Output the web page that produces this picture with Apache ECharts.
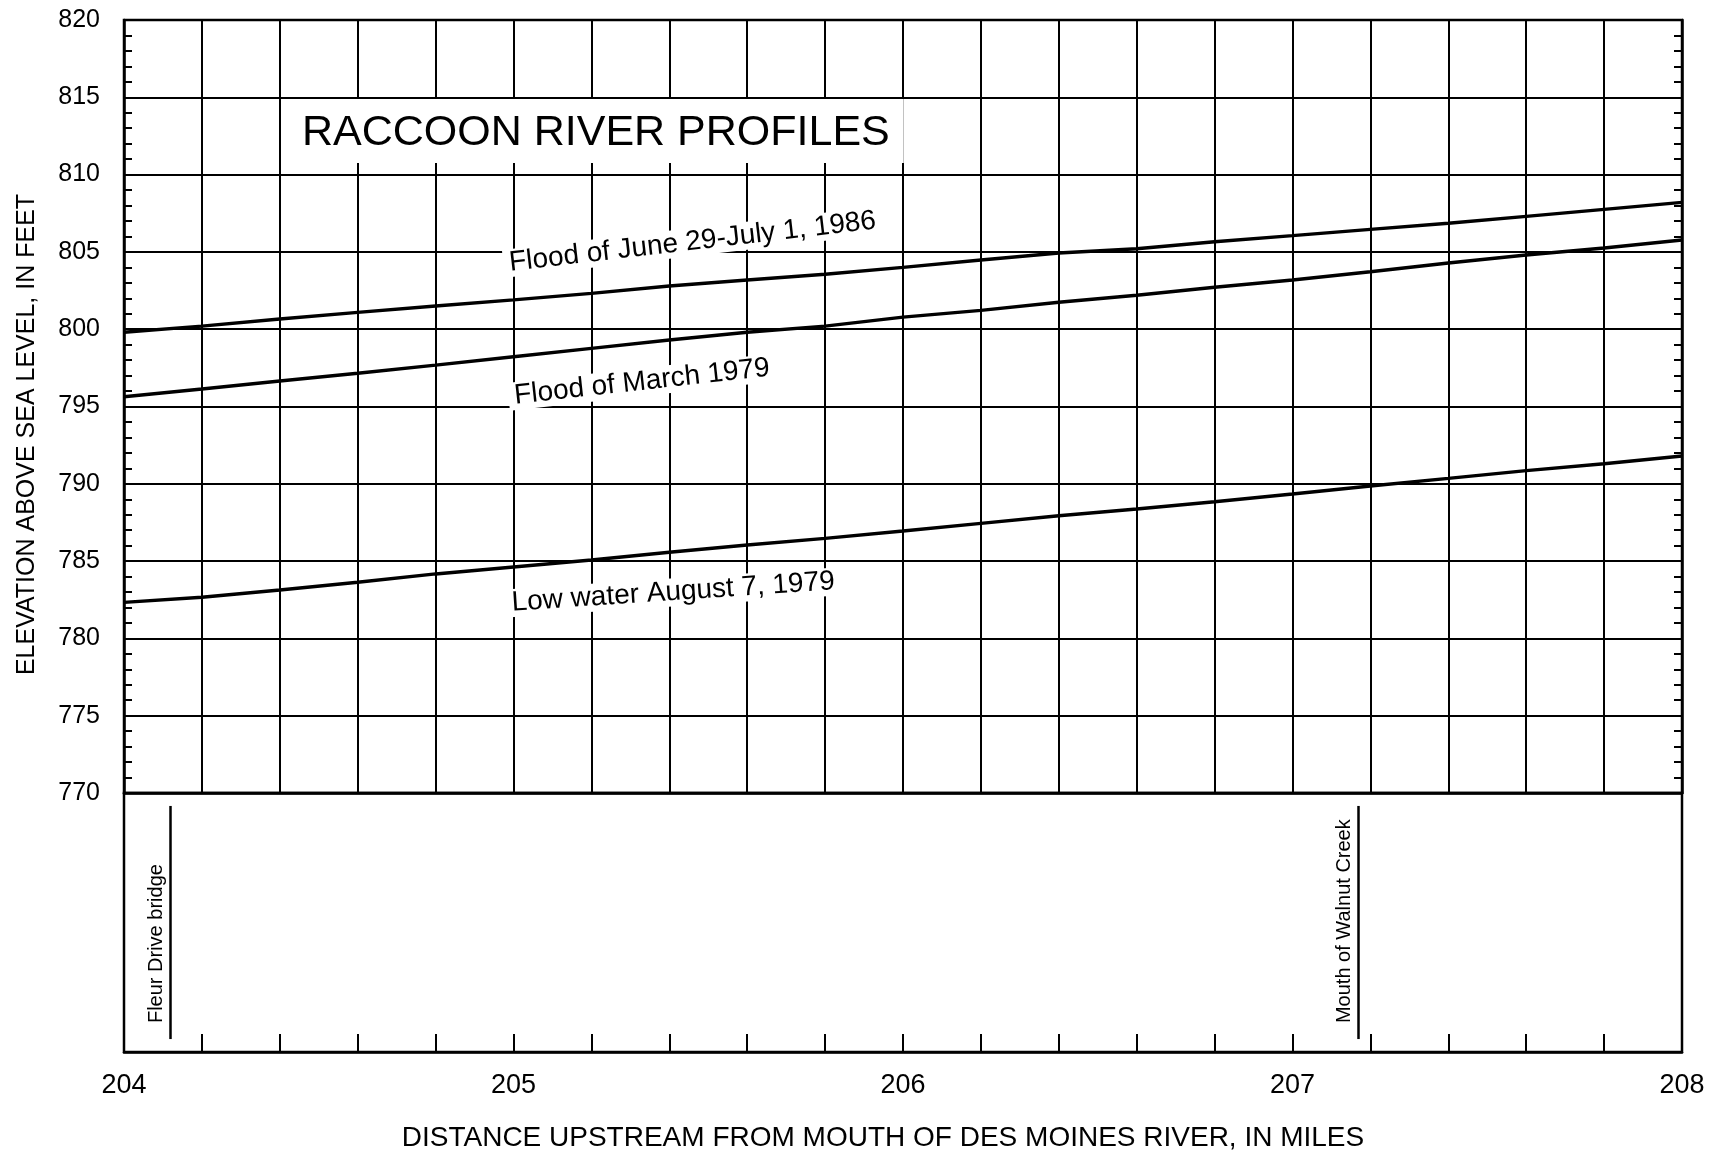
<!DOCTYPE html>
<html>
<head>
<meta charset="utf-8">
<title>Raccoon River Profiles</title>
<script src="https://cdn.jsdelivr.net/npm/echarts@6/dist/echarts.min.js"></script>
<style>
    html, body { margin: 0; padding: 0; background: #fff; }
    #chart { width: 1725px; height: 1156px; }
</style>
</head>
<body>
<div id="chart"></div>
<script>
// distance upstream (miles) at which each profile was read
const miles = [204.0, 204.2, 204.4, 204.6, 204.8, 205.0, 205.2, 205.4, 205.6, 205.8,
               206.0, 206.2, 206.4, 206.6, 206.8, 207.0, 207.2, 207.4, 207.6, 207.8, 208.0];

// water surface elevations, feet above sea level
const flood1986 = [799.8, 800.2, 800.66, 801.09, 801.5, 801.9, 802.32, 802.79, 803.18, 803.55,
                   804.0, 804.48, 804.93, 805.2, 805.66, 806.05, 806.46, 806.85, 807.3, 807.75, 808.2];
const flood1979 = [795.63, 796.13, 796.65, 797.15, 797.68, 798.22, 798.76, 799.3, 799.8, 800.2,
                   800.78, 801.22, 801.74, 802.2, 802.71, 803.18, 803.72, 804.28, 804.8, 805.25, 805.77];
const lowWater1979 = [782.33, 782.66, 783.13, 783.63, 784.17, 784.62, 785.07, 785.57, 786.04, 786.47,
                      786.95, 787.44, 787.93, 788.37, 788.84, 789.34, 789.86, 790.35, 790.85, 791.3, 791.8];

const profileNames = ['Flood of June 29-July 1, 1986', 'Flood of March 1979', 'Low water August 7, 1979'];

// landmarks along the river
const landmarkNames = ['Fleur Drive bridge', 'Mouth of Walnut Creek'];
const landmarkMiles = [204.12, 207.17];

// axis ticks
const yTicks = { min: 770, max: 820, step: 5 };
const xTicks = { min: 204, max: 208, step: 0.2 };

const FONT = 'Liberation Sans, Arial, Helvetica, sans-serif';
const INK = '#000';

// where the rotated profile labels sit (data coords) and their tilt
const profileLabels = [
    { coord: [205.46, 805.64], rotate: 6.6 },
    { coord: [205.33, 796.58], rotate: 6.3 },
    { coord: [205.41, 782.98], rotate: 3.8 }
];

function pairs(xs, ys) {
    return xs.map((x, i) => [x, ys[i]]);
}

function profileSeries(idx, values) {
    const lab = profileLabels[idx];
    return {
        name: profileNames[idx],
        type: 'line',
        xAxisIndex: 0,
        yAxisIndex: 0,
        data: pairs(miles, values),
        showSymbol: false,
        smooth: false,
        silent: true,
        lineStyle: { color: INK, width: 3.4 },
        z: 3,
        markPoint: {
            symbol: 'circle',
            symbolSize: 1,
            itemStyle: { color: 'rgba(0,0,0,0)' },
            silent: true,
            data: [{
                coord: lab.coord,
                label: {
                    show: true,
                    position: 'inside',
                    formatter: profileNames[idx],
                    rotate: lab.rotate,
                    color: INK,
                    fontFamily: FONT,
                    fontSize: 28,
                    backgroundColor: '#fff',
                    padding: [0, 6, 0, 6]
                }
            }]
        }
    };
}

function landmarkSeries(idx) {
    const mile = landmarkMiles[idx];
    return {
        name: landmarkNames[idx],
        type: 'line',
        xAxisIndex: 1,
        yAxisIndex: 2,
        data: [],
        silent: true,
        markLine: {
            silent: true,
            symbol: ['none', 'none'],
            lineStyle: { color: INK, width: 2.5, type: 'solid' },
            label: {
                show: true,
                position: 'insideStartTop',
                formatter: landmarkNames[idx],
                color: INK,
                fontFamily: FONT,
                fontSize: 20,
                distance: 4,
                padding: [0, 0, 0, 12]
            },
            data: [[{ coord: [mile, 0.05] }, { coord: [mile, 0.95] }]]
        }
    };
}

const isWhole = v => Math.abs(v - Math.round(v)) < 1e-6;

const option = {
    backgroundColor: '#fff',
    animation: false,
    textStyle: { fontFamily: FONT, color: INK },
    title: {
        text: 'RACCOON RIVER PROFILES',
        left: 290,
        top: 99,
        backgroundColor: '#fff',
        padding: [13, 14, 8, 12],
        textStyle: { fontFamily: FONT, fontSize: 43, fontWeight: 'normal', color: INK }
    },
    grid: [
        { left: 124, right: 43, top: 20, height: 773, show: true, borderColor: INK, borderWidth: 2.5 },
        { left: 124, right: 43, top: 793, height: 259, show: true, borderColor: INK, borderWidth: 2.5 }
    ],
    xAxis: [
        {
            gridIndex: 0,
            type: 'value',
            min: xTicks.min,
            max: xTicks.max,
            interval: xTicks.step,
            axisLine: { show: true, lineStyle: { color: INK, width: 2.5 } },
            axisTick: { show: false },
            axisLabel: { show: false },
            splitLine: { show: true, lineStyle: { color: INK, width: 2 } }
        },
        {
            gridIndex: 1,
            type: 'value',
            min: xTicks.min,
            max: xTicks.max,
            interval: xTicks.step,
            axisLine: { show: true, lineStyle: { color: INK, width: 2.5 } },
            axisTick: { show: true, inside: true, length: 18, lineStyle: { color: INK, width: 2 } },
            axisLabel: {
                show: true,
                margin: 20,
                fontFamily: FONT,
                fontSize: 27,
                color: INK,
                formatter: v => (isWhole(v) ? String(Math.round(v)) : '')
            },
            splitLine: { show: false },
            name: 'DISTANCE UPSTREAM FROM MOUTH OF DES MOINES RIVER, IN MILES',
            nameLocation: 'middle',
            nameGap: 72,
            nameTextStyle: { fontFamily: FONT, fontSize: 28, color: INK, padding: [0, 40, 0, 0] }
        }
    ],
    yAxis: [
        {
            gridIndex: 0,
            type: 'value',
            min: yTicks.min,
            max: yTicks.max,
            interval: yTicks.step,
            axisLine: { show: true, lineStyle: { color: INK, width: 2.5 } },
            axisTick: { show: true, inside: true, length: 8, lineStyle: { color: INK, width: 2 } },
            minorTick: { show: true, splitNumber: 5, length: 8, lineStyle: { color: INK, width: 2 } },
            axisLabel: { margin: 24, fontFamily: FONT, fontSize: 25, color: INK },
            splitLine: { show: true, lineStyle: { color: INK, width: 2 } },
            name: 'ELEVATION ABOVE SEA LEVEL, IN FEET',
            nameLocation: 'middle',
            nameGap: 84,
            nameTextStyle: { fontFamily: FONT, fontSize: 25, color: INK, padding: [0, 56, 0, 0] }
        },
        {
            gridIndex: 0,
            type: 'value',
            position: 'right',
            min: yTicks.min,
            max: yTicks.max,
            interval: yTicks.step,
            axisLine: { show: true, lineStyle: { color: INK, width: 2.5 } },
            axisTick: { show: true, inside: true, length: 8, lineStyle: { color: INK, width: 2 } },
            minorTick: { show: true, splitNumber: 5, length: 8, lineStyle: { color: INK, width: 2 } },
            axisLabel: { show: false },
            splitLine: { show: false }
        },
        {
            gridIndex: 1,
            type: 'value',
            min: 0,
            max: 1,
            show: false
        }
    ],
    series: [
        profileSeries(0, flood1986),
        profileSeries(1, flood1979),
        profileSeries(2, lowWater1979),
        landmarkSeries(0),
        landmarkSeries(1)
    ]
};

const chart = echarts.init(document.getElementById('chart'), null, { renderer: 'canvas' });
chart.setOption(option);
</script>
</body>
</html>
